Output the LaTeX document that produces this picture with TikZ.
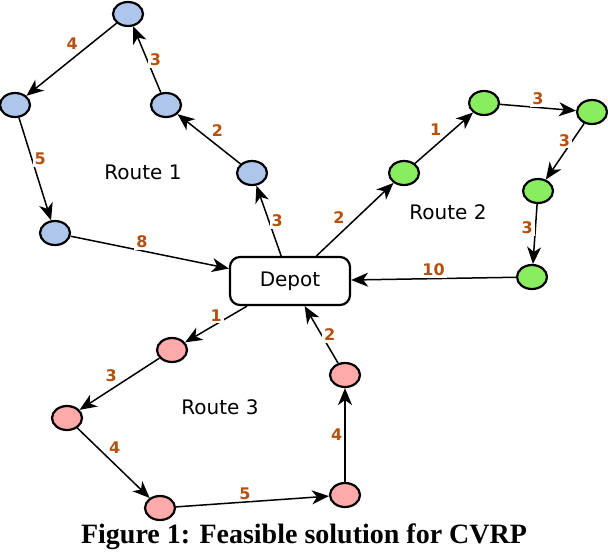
\documentclass[tikz,border=0pt]{standalone}
\usepackage{fontspec}
\newfontfamily\labelfont{DejaVu Sans}
\newfontfamily\capfont{Liberation Serif}
\usetikzlibrary{shapes.geometric, arrows.meta}
\definecolor{routeblue}{HTML}{AEC6EC}
\definecolor{routegreen}{HTML}{88EE60}
\definecolor{routepink}{HTML}{FFAAAA}
\definecolor{costorange}{HTML}{B5500F}

\begin{document}
\begin{tikzpicture}[x=0.5pt, y=-0.5pt, font=\labelfont\fontsize{10}{12}\selectfont,
    stop/.style={ellipse, draw, line width=1.1pt, minimum width=15pt, minimum height=12pt, inner sep=0pt},
    route/.style={-{Stealth[length=8.5pt, width=7pt, inset=2.5pt]}, line width=0.75pt},
    cost/.style={font=\labelfont\bfseries\fontsize{8}{9}\selectfont, text=costorange, fill=white, inner sep=1pt}]
    \useasboundingbox (0,0) rectangle (608,552);
    \node[draw, rounded corners=5pt, line width=1.1pt, minimum width=60pt, minimum height=24pt] (depot) at (290,281) {Depot};
    \node[stop, fill=routeblue] (a1) at (128,14) {};
    \node[stop, fill=routeblue] (a2) at (15,105) {};
    \node[stop, fill=routeblue] (a3) at (166,105) {};
    \node[stop, fill=routeblue] (a4) at (252,173) {};
    \node[stop, fill=routeblue] (a5) at (55,233) {};
    \node[stop, fill=routegreen] (b1) at (404,173) {};
    \node[stop, fill=routegreen] (b2) at (484,103) {};
    \node[stop, fill=routegreen] (b3) at (592,112) {};
    \node[stop, fill=routegreen] (b4) at (538,191) {};
    \node[stop, fill=routegreen] (b5) at (532,277) {};
    \node[stop, fill=routepink] (c1) at (172,350) {};
    \node[stop, fill=routepink] (c2) at (67,418) {};
    \node[stop, fill=routepink] (c3) at (160,508) {};
    \node[stop, fill=routepink] (c4) at (345,495) {};
    \node[stop, fill=routepink] (c5) at (345,375) {};
    \node (r1) at (143,172) {Route 1};
    \node (r2) at (448,212) {Route 2};
    \node (r3) at (220,407) {Route 3};
    \draw[route] (depot) -- (a4) node[cost, midway, right]{3};
    \draw[route] (a4) -- (a3) node[cost, midway, above right]{2};
    \draw[route] (a3) -- (a1) node[cost, midway, right]{3};
    \draw[route] (a1) -- (a2) node[cost, pos=0.4, above left]{4};
    \draw[route] (a2) -- (a5) node[cost, pos=0.4, right]{5};
    \draw[route] (a5) -- (depot) node[cost, pos=0.45, above]{8};
    \draw[route] (depot) -- (b1) node[cost, pos=0.4, above left]{2};
    \draw[route] (b1) -- (b2) node[cost, midway, above left]{1};
    \draw[route] (b2) -- (b3) node[cost, midway, above]{3};
    \draw[route] (b3) -- (b4) node[cost, pos=0.3, left]{3};
    \draw[route] (b4) -- (b5) node[cost, pos=0.4, left]{3};
    \draw[route] (b5) -- (depot) node[cost, midway, above]{10};
    \draw[route] (depot) -- (c1) node[cost, midway, above]{1};
    \draw[route] (c1) -- (c2) node[cost, midway, above left]{3};
    \draw[route] (c2) -- (c3) node[cost, pos=0.4, above right]{4};
    \draw[route] (c3) -- (c4) node[cost, pos=0.45, above]{5};
    \draw[route] (c4) -- (c5) node[cost, midway, left]{4};
    \draw[route] (c5) -- (depot) node[cost, midway, right]{2};
    \node[font=\capfont\bfseries\fontsize{14}{16}\selectfont] (caption) at (304,537) {Figure 1: Feasible solution for CVRP};
\end{tikzpicture}
\end{document}
